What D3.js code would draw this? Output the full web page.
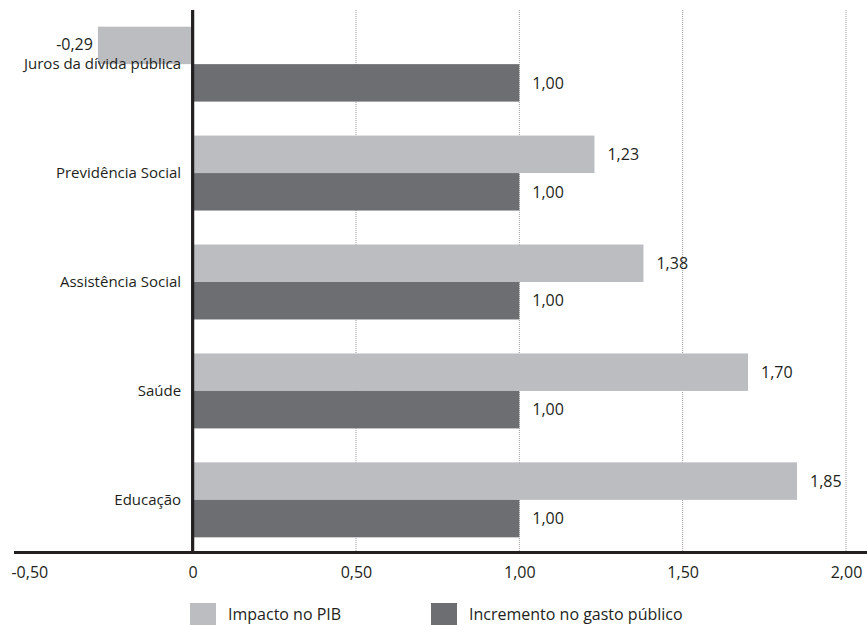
<!DOCTYPE html>
<html lang="pt">
<head>
<meta charset="utf-8">
<script src="https://cdn.jsdelivr.net/npm/d3@7"></script>
<style>
  html, body { margin: 0; padding: 0; background: #fff; }
  svg { display: block; font-family: "Open Sans", "DejaVu Sans", sans-serif; }
</style>
</head>
<body>
<svg id="chart" width="867" height="625"></svg>
<script>
// Multiplicadores do gasto público por área
const categories = ["Juros da dívida pública", "Previdência Social", "Assistência Social", "Saúde", "Educação"];
const seriesNames = ["Impacto no PIB", "Incremento no gasto público"];
const impactoPIB = [-0.29, 1.23, 1.38, 1.70, 1.85];
const incrementoGasto = [1.00, 1.00, 1.00, 1.00, 1.00];
const tickValues = [-0.5, 0, 0.5, 1.0, 1.5, 2.0];
const gridValues = [0.5, 1.0, 1.5, 2.0];

const colors = { "Impacto no PIB": "#bcbdc0", "Incremento no gasto público": "#6d6e71" };
const ink = "#231f20";

const ptBR = d3.formatLocale({ decimal: ",", thousands: ".", grouping: [3], currency: ["R$", ""], minus: "-" });
const fmt2 = ptBR.format(".2f");
const tickFmt = d => d === 0 ? "0" : fmt2(d);

const rows = categories.map((c, i) => ({
  category: c,
  values: [
    { series: seriesNames[0], value: impactoPIB[i] },
    { series: seriesNames[1], value: incrementoGasto[i] }
  ]
}));

const svg = d3.select("#chart");
const axisY = 552.5;     // baseline of the horizontal axis
const plotTop = 10;

const x = d3.scaleLinear().domain([-0.5, 2.0]).range([29.3, 846]);
const y = d3.scaleBand().domain(categories).range([plotTop, 554])
  .paddingInner(0.312).paddingOuter(0.153);
const ySub = d3.scaleBand().domain(seriesNames).range([0, y.bandwidth()]);

// dotted reference lines
svg.append("g").selectAll("line").data(gridValues).join("line")
  .attr("x1", d => x(d)).attr("x2", d => x(d))
  .attr("y1", plotTop).attr("y2", axisY)
  .attr("stroke", "#9a9a9a").attr("stroke-width", 1)
  .attr("stroke-dasharray", "1,1");

// bars
const groups = svg.append("g").selectAll("g").data(rows).join("g")
  .attr("transform", d => `translate(0,${y(d.category)})`);

groups.selectAll("rect").data(d => d.values).join("rect")
  .attr("x", d => x(Math.min(0, d.value)))
  .attr("width", d => Math.abs(x(d.value) - x(0)))
  .attr("y", d => ySub(d.series))
  .attr("height", ySub.bandwidth())
  .attr("fill", d => colors[d.series]);

// value labels
groups.selectAll("text").data(d => d.values).join("text")
  .attr("x", d => d.value < 0 ? x(d.value) - 5 : x(d.value) + 13)
  .attr("y", d => ySub(d.series) + ySub.bandwidth() / 2 - (d.value < 0 ? 1 : 0))
  .attr("dy", "0.36em")
  .attr("text-anchor", d => d.value < 0 ? "end" : "start")
  .attr("font-size", 16)
  .attr("fill", ink)
  .text(d => fmt2(d.value));

// category labels
const yAxis = svg.append("g")
  .attr("transform", `translate(${x(0) - 1.5},0)`)
  .call(d3.axisLeft(y).tickSize(0).tickPadding(10));
yAxis.select(".domain").remove();
yAxis.selectAll("text").attr("font-size", 15).attr("fill", ink)
  .attr("font-family", "\"Open Sans\", sans-serif");

// vertical zero line
svg.append("line")
  .attr("x1", x(0)).attr("x2", x(0))
  .attr("y1", plotTop).attr("y2", axisY)
  .attr("stroke", ink).attr("stroke-width", 3.2);

// horizontal axis line
svg.append("line")
  .attr("x1", 14).attr("x2", 867)
  .attr("y1", axisY).attr("y2", axisY)
  .attr("stroke", ink).attr("stroke-width", 3.2);

// x tick labels
const xAxis = svg.append("g")
  .attr("transform", `translate(0,${axisY})`)
  .call(d3.axisBottom(x).tickValues(tickValues).tickFormat(tickFmt).tickSize(0).tickPadding(14));
xAxis.select(".domain").remove();
xAxis.selectAll("text").attr("font-size", 16).attr("fill", ink)
  .attr("font-family", "\"Open Sans\", sans-serif");

// legend
const legendItems = [
  { name: seriesNames[0], x: 190 },
  { name: seriesNames[1], x: 431 }
];
const legend = svg.append("g").selectAll("g").data(legendItems).join("g")
  .attr("transform", d => `translate(${d.x},603)`);
legend.append("rect").attr("width", 26).attr("height", 26)
  .attr("fill", d => colors[d.name]);
legend.append("text").attr("x", 38).attr("y", 17)
  .attr("font-size", 16).attr("fill", ink)
  .text(d => d.name);
</script>
</body>
</html>
